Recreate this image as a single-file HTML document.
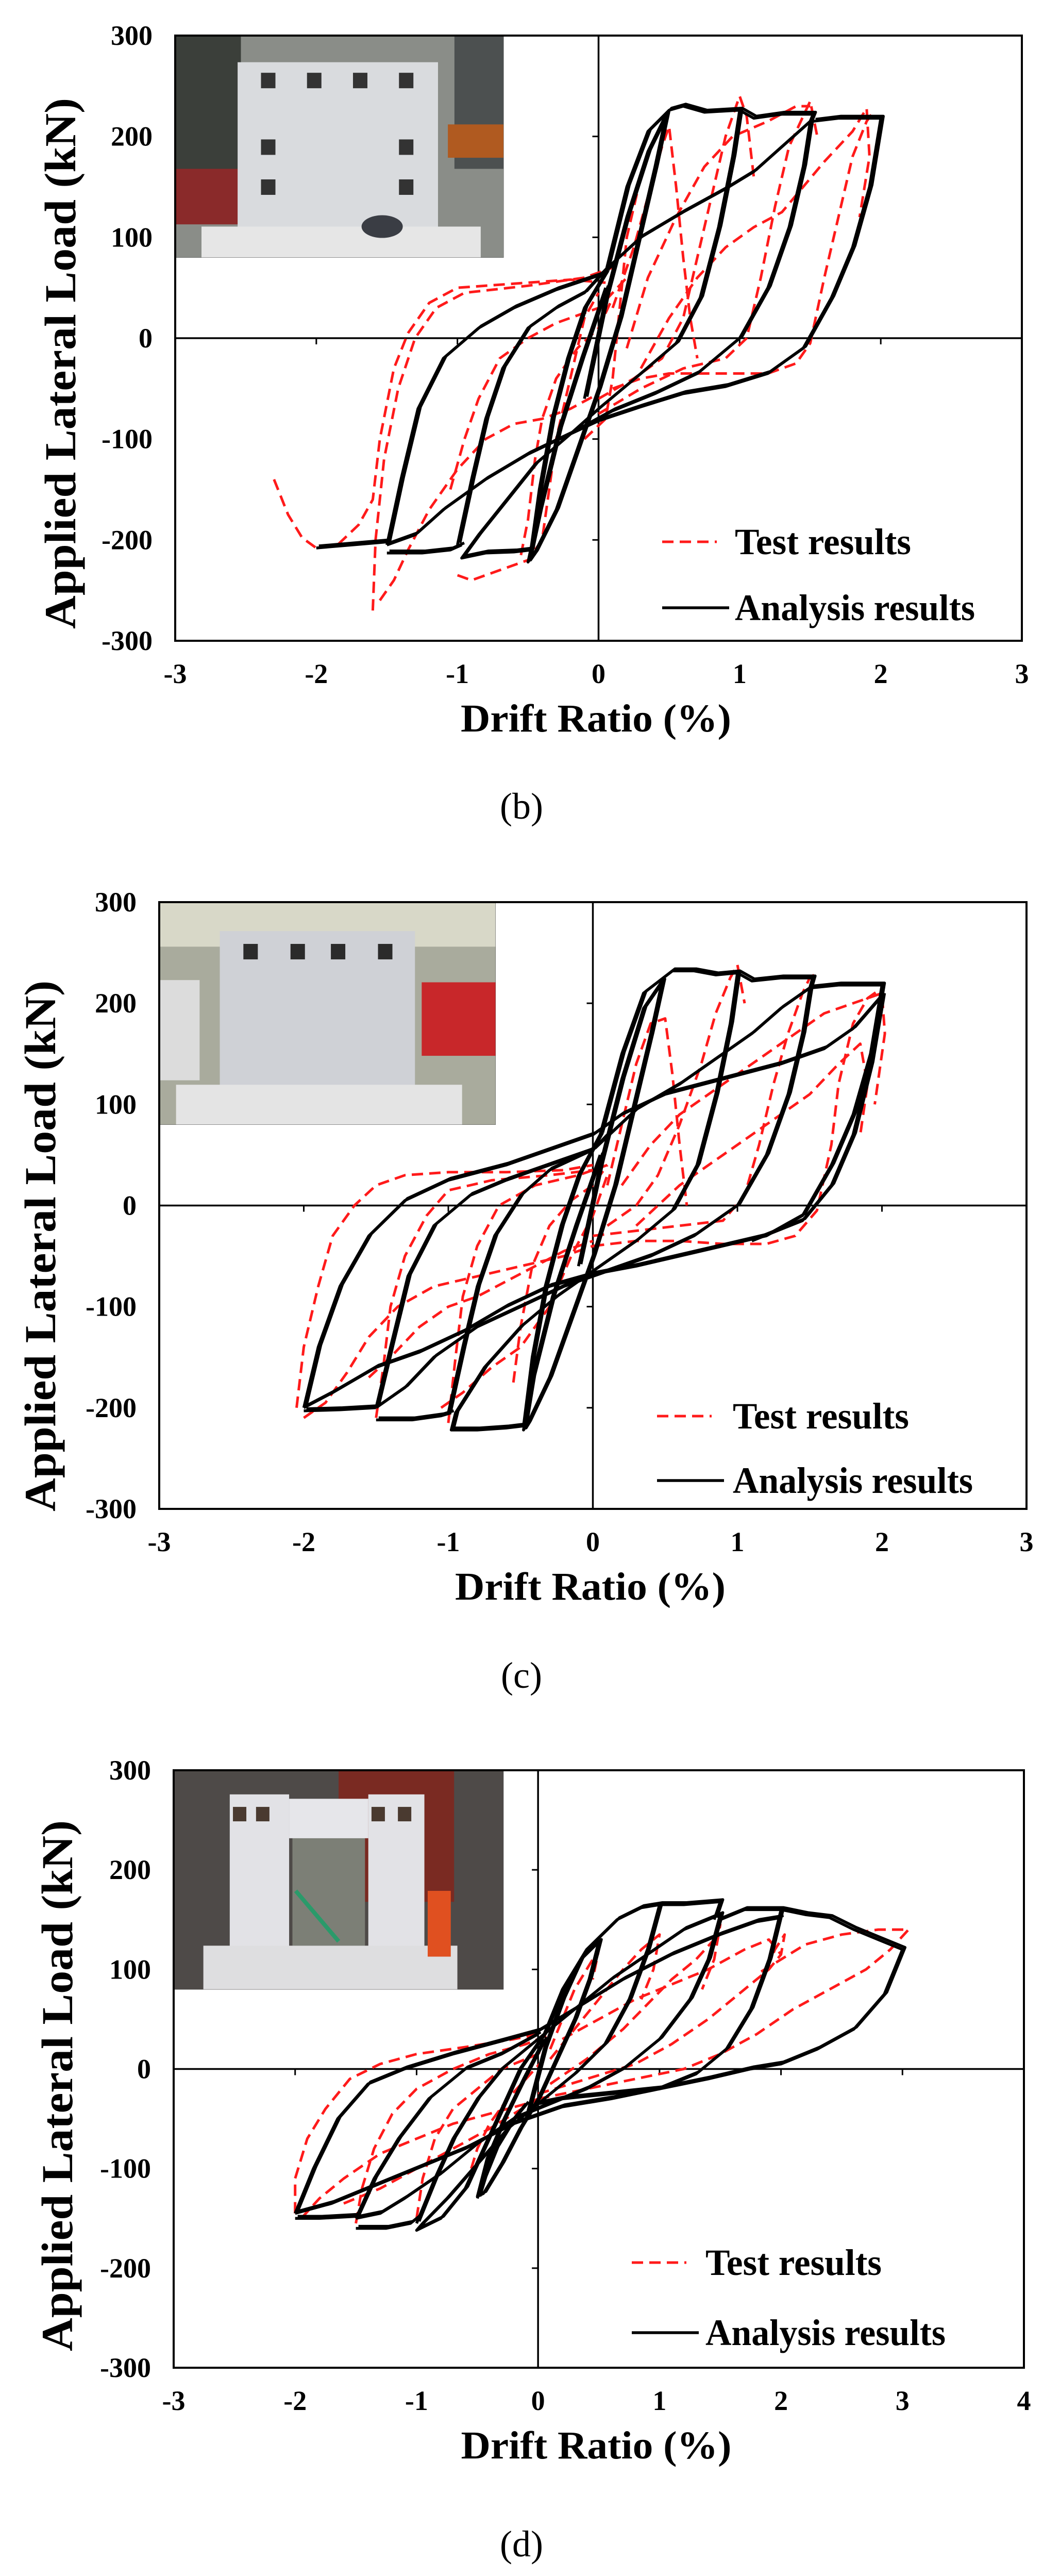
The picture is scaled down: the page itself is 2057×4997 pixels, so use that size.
<!DOCTYPE html>
<html><head><meta charset="utf-8">
<style>
html,body{margin:0;padding:0;background:#fff;}
svg{display:block;}
text{font-family:"Liberation Serif",serif;}
</style></head>
<body>
<svg id="fig" width="2057" height="4997" viewBox="0 0 2057 4997" xmlns="http://www.w3.org/2000/svg">
<rect x="0" y="0" width="2057" height="4997" fill="#fff"/>
</svg>
<script>
// ---------- data ----------
const yTicks = [-300, -200, -100, 0, 100, 200, 300];
const xTicksBC = [-3, -2, -1, 0, 1, 2, 3];
const xTicksD = [-3, -2, -1, 0, 1, 2, 3, 4];
const captions = ["(b)", "(c)", "(d)"];

const bAnalysis = [
 [[-0.1,-60],[0.05,40],[0.2,120],[0.35,185],[0.48,222],[0.4,170],[0.3,110],[0.15,20],[0,-50],[-0.15,-110],[-0.3,-170],[-0.45,-212],[-0.5,-222],[-0.42,-170],[-0.28,-90],[-0.12,-20],[0.05,50]],
 [[0.05,65],[0.2,150],[0.35,205],[0.5,226],[0.6,230],[0.75,224],[1.0,226],[0.95,180],[0.85,110],[0.72,40],[0.55,-5],[0.3,-35],[0,-70],[-0.2,-95],[-0.45,-125],[-0.65,-160],[-0.85,-195],[-0.97,-218],[-0.8,-213],[-0.6,-212],[-0.48,-210],[-0.42,-150],[-0.33,-80],[-0.22,-20],[-0.1,30],[0.05,65]],
 [[-1.0,-205],[-0.9,-140],[-0.8,-80],[-0.68,-30],[-0.5,10],[-0.3,30],[-0.1,45],[0.05,68],[0.3,100],[0.6,125],[0.9,148],[1.1,165],[1.3,190],[1.5,215],[1.45,170],[1.35,110],[1.2,50],[1.0,0],[0.7,-35],[0.4,-55],[0.1,-72],[-0.2,-95],[-0.5,-115],[-0.8,-140],[-1.1,-170],[-1.3,-195],[-1.5,-205]],
 [[-1.5,-205],[-1.4,-140],[-1.28,-70],[-1.1,-20],[-0.85,10],[-0.6,30],[-0.3,48],[0,62],[0.1,72]],
 [[1.0,226],[1.1,218],[1.3,222],[1.52,222],[1.5,215]],
 [[-1.5,-213],[-1.25,-213],[-1.05,-210],[-0.97,-205]],
 [[1.52,215],[1.7,218],[2.0,218],[1.92,150],[1.8,90],[1.65,40],[1.45,-10],[1.2,-35],[0.9,-48],[0.6,-55],[0.3,-68],[0,-82],[-0.2,-95]],
 [[-1.5,-202],[-1.75,-205],[-2.0,-208]]
];
const bTest = [
 [[-2.3,-140],[-2.2,-175],[-2.1,-198],[-2.0,-208],[-1.85,-205],[-1.7,-185],[-1.6,-160],[-1.55,-100],[-1.45,-30],[-1.35,5],[-1.2,35],[-1.0,50],[-0.6,54],[-0.2,58],[0.05,55]],
 [[-1.6,-270],[-1.58,-200],[-1.52,-120],[-1.42,-50],[-1.3,0],[-1.15,30],[-0.95,45],[-0.5,52],[-0.1,60],[0.1,70]],
 [[-1.55,-260],[-1.45,-240],[-1.35,-210],[-1.2,-170],[-1.0,-130],[-0.8,-100],[-0.6,-85],[-0.4,-80],[-0.2,-70],[0,-55]],
 [[-1.0,-235],[-0.9,-240],[-0.7,-230],[-0.5,-220],[-0.4,-200],[-0.35,-150],[-0.3,-100],[-0.2,-40],[-0.1,20],[0,45]],
 [[-1.05,-150],[-0.95,-100],[-0.85,-60],[-0.7,-20],[-0.5,0],[-0.3,15],[0,30],[0.2,60]],
 [[-0.55,-215],[-0.5,-180],[-0.45,-120],[-0.4,-80],[-0.3,-40],[-0.15,-10],[0,10],[0.1,40]],
 [[0.1,-50],[0.3,-40],[0.5,-35],[0.8,-35],[1.0,-35],[1.2,-35],[1.4,-25],[1.5,-5],[1.6,60],[1.7,120],[1.8,180],[1.9,215],[1.95,225]],
 [[0,-75],[0.3,-50],[0.6,-30],[0.9,-20],[1.05,0],[1.15,60],[1.25,130],[1.35,190],[1.45,220],[1.5,235],[1.55,200]],
 [[0,-60],[0.25,-40],[0.45,-20],[0.6,20],[0.7,80],[0.8,140],[0.9,200],[1.0,240],[1.05,220],[1.1,160]],
 [[0.1,30],[0.25,90],[0.35,140],[0.45,190],[0.5,210],[0.55,150],[0.6,80],[0.65,20],[0.7,-20]],
 [[0.2,-10],[0.35,60],[0.55,120],[0.75,170],[0.95,200],[1.2,215],[1.4,230],[1.5,230]],
 [[0.3,-30],[0.5,20],[0.7,60],[0.9,90],[1.1,110],[1.3,125],[1.45,150],[1.6,175],[1.8,205],[1.9,228],[1.92,180],[1.85,120]],
 [[-0.1,-100],[0.05,-80],[0.1,-40],[0.15,30],[0.2,100],[0.3,160],[0.35,180]]
];

const cAnalysis = [
 [[-0.1,-60],[0.05,40],[0.2,125],[0.35,195],[0.48,222],[0.4,170],[0.3,110],[0.15,20],[0,-50],[-0.15,-110],[-0.3,-170],[-0.45,-215],[-0.48,-222],[-0.42,-170],[-0.28,-90],[-0.12,-20],[0.05,50]],
 [[0.05,70],[0.2,150],[0.35,210],[0.55,232],[0.7,232],[0.85,228],[1.0,230],[0.95,180],[0.85,110],[0.72,40],[0.55,-5],[0.3,-35],[0,-65],[-0.25,-90],[-0.5,-120],[-0.75,-160],[-0.95,-205],[-0.98,-222],[-0.8,-222],[-0.6,-220],[-0.48,-218],[-0.42,-150],[-0.33,-80],[-0.22,-20],[-0.1,30],[0.05,70]],
 [[-1.0,-205],[-0.9,-140],[-0.8,-80],[-0.68,-30],[-0.5,10],[-0.3,35],[0,55],[0.3,95],[0.6,120],[0.9,150],[1.1,170],[1.3,195],[1.5,215],[1.45,170],[1.35,110],[1.2,50],[1.0,0],[0.7,-30],[0.4,-50],[0.1,-65],[-0.2,-80],[-0.5,-100],[-0.8,-120],[-1.1,-150],[-1.3,-180],[-1.5,-200]],
 [[-1.5,-200],[-1.4,-140],[-1.28,-70],[-1.1,-20],[-0.85,10],[-0.6,25],[-0.3,40],[0,55],[0.1,70]],
 [[1.0,230],[1.1,222],[1.3,225],[1.52,225],[1.5,215]],
 [[-1.5,-212],[-1.25,-212],[-1.05,-208],[-0.98,-205]],
 [[1.5,215],[1.7,218],[2.0,218],[1.92,150],[1.8,90],[1.65,40],[1.45,-10],[1.2,-30],[0.9,-40],[0.6,-50],[0.3,-60],[0,-68],[-0.3,-80],[-0.6,-100],[-0.9,-125],[-1.2,-145],[-1.5,-160],[-1.8,-185],[-2.0,-200]],
 [[-2.0,-200],[-1.9,-140],[-1.75,-80],[-1.55,-30],[-1.3,5],[-1.0,25],[-0.6,40],[-0.3,55],[0,70],[0.2,90],[0.5,110],[0.9,125],[1.3,140],[1.6,155],[1.8,175],[2.0,208]],
 [[-1.5,-200],[-1.75,-202],[-2.0,-203]],
 [[2.0,208],[1.92,140],[1.8,70],[1.65,20],[1.45,-15],[1.1,-35]]
];
const cTest = [
 [[-2.05,-200],[-2.0,-140],[-1.9,-80],[-1.8,-30],[-1.65,0],[-1.5,20],[-1.3,30],[-1.0,33],[-0.6,33],[-0.2,35],[0,40]],
 [[-2.0,-210],[-1.85,-195],[-1.7,-165],[-1.55,-130],[-1.35,-100],[-1.1,-80],[-0.8,-70],[-0.5,-60],[-0.2,-50],[0,-40]],
 [[-1.5,-210],[-1.45,-160],[-1.4,-100],[-1.3,-50],[-1.15,-10],[-1.0,15],[-0.7,25],[-0.3,30],[0,35]],
 [[-1.0,-215],[-0.95,-150],[-0.9,-90],[-0.8,-40],[-0.65,0],[-0.4,20],[-0.1,30],[0.1,40]],
 [[-1.55,-170],[-1.4,-150],[-1.2,-120],[-1.0,-100],[-0.8,-90],[-0.6,-75],[-0.4,-60],[-0.2,-45],[0,-35]],
 [[-1.05,-200],[-0.9,-185],[-0.7,-160],[-0.5,-140],[-0.3,-100],[-0.15,-50],[0,-10],[0.1,30]],
 [[-0.55,-175],[-0.5,-120],[-0.42,-60],[-0.3,-20],[-0.15,5],[0,20],[0.1,40]],
 [[0,-40],[0.3,-35],[0.6,-35],[0.9,-38],[1.2,-38],[1.4,-30],[1.55,-5],[1.65,60],[1.7,120],[1.8,180],[1.9,205],[2.0,215]],
 [[0,-30],[0.3,-25],[0.6,-20],[0.9,-15],[1.05,10],[1.15,60],[1.25,120],[1.35,170],[1.45,210],[1.5,225],[1.55,230]],
 [[0.1,-20],[0.3,0],[0.45,30],[0.6,80],[0.75,140],[0.85,190],[0.95,225],[1.0,238],[1.05,200]],
 [[0.1,20],[0.2,80],[0.3,140],[0.4,180],[0.5,185],[0.55,130],[0.6,60],[0.65,0]],
 [[0.2,20],[0.4,60],[0.6,90],[0.8,110],[1.0,130],[1.2,150],[1.4,170],[1.6,190],[1.8,200],[2.0,210],[2.02,170],[1.95,100]],
 [[0.3,-20],[0.6,20],[0.9,50],[1.2,80],[1.5,110],[1.7,140],[1.85,160],[1.9,120],[1.85,70]]
];

const dAnalysis = [
 [[-0.1,-50],[0.05,20],[0.2,70],[0.35,110],[0.5,128],[0.42,90],[0.3,50],[0.15,10],[0,-30],[-0.15,-60],[-0.3,-95],[-0.45,-125],[-0.5,-128],[-0.42,-90],[-0.28,-50],[-0.12,-10],[0.05,30]],
 [[0.05,35],[0.2,80],[0.4,120],[0.65,150],[0.85,162],[1.0,165],[0.9,120],[0.75,70],[0.55,25],[0.3,-5],[0,-35],[-0.25,-60],[-0.5,-95],[-0.75,-130],[-0.95,-155],[-1.0,-162],[-0.8,-150],[-0.6,-120],[-0.45,-80],[-0.3,-40],[-0.15,0],[0.05,35]],
 [[-1.0,-155],[-0.85,-110],[-0.7,-70],[-0.5,-30],[-0.3,0],[0,30],[0.3,60],[0.6,90],[0.9,115],[1.2,140],[1.5,155],[1.4,110],[1.25,70],[1.0,30],[0.7,0],[0.4,-20],[0.1,-35],[-0.2,-50],[-0.5,-75],[-0.8,-105],[-1.1,-130],[-1.3,-145],[-1.5,-150]],
 [[-1.5,-150],[-1.35,-110],[-1.15,-70],[-0.9,-30],[-0.6,0],[-0.3,15],[0,35]],
 [[1.0,165],[1.2,165],[1.5,168],[1.45,150]],
 [[-1.5,-160],[-1.25,-160],[-1.05,-155],[-1.0,-150]],
 [[1.5,150],[1.7,160],[2.0,160],[1.9,110],[1.75,60],[1.55,20],[1.3,-5],[1.0,-20],[0.6,-30],[0.2,-38],[-0.2,-55],[-0.6,-80],[-1.0,-100],[-1.4,-120],[-1.7,-135],[-2.0,-145]],
 [[-2.0,-145],[-1.85,-100],[-1.65,-50],[-1.4,-15],[-1.1,0],[-0.7,15],[-0.3,28],[0,38],[0.3,60],[0.7,90],[1.1,115],[1.5,135],[1.8,148],[2.0,152]],
 [[-2.0,-150],[-1.8,-150],[-1.5,-148]],
 [[2.0,160],[2.2,155],[2.4,152],[2.6,140],[2.8,130],[3.0,120],[2.85,75],[2.6,40],[2.3,20],[2.0,5],[1.75,0],[1.4,-10],[1.0,-20],[0.6,-25],[0.2,-30],[0,-35]],
 [[-0.5,-130],[-0.45,-110],[-0.35,-80],[-0.2,-50],[-0.1,-35]]
];
const dTest = [
 [[-2.0,-145],[-2.0,-110],[-1.9,-70],[-1.75,-40],[-1.55,-10],[-1.3,5],[-1.0,15],[-0.6,22],[-0.2,30],[0,35]],
 [[-1.95,-150],[-1.8,-130],[-1.6,-110],[-1.3,-85],[-1.0,-70],[-0.7,-55],[-0.4,-45],[-0.1,-35],[0,-30]],
 [[-1.5,-155],[-1.45,-120],[-1.35,-80],[-1.2,-45],[-1.0,-20],[-0.7,0],[-0.4,15],[-0.1,25],[0.1,35]],
 [[-1.0,-150],[-0.95,-110],[-0.85,-70],[-0.7,-40],[-0.5,-20],[-0.3,0],[0,15],[0.1,30]],
 [[-1.6,-135],[-1.3,-120],[-1.0,-100],[-0.7,-80],[-0.4,-60],[-0.2,-45],[0,-30]],
 [[-0.55,-100],[-0.5,-80],[-0.4,-55],[-0.25,-30],[-0.1,-10],[0.05,10]],
 [[0,-30],[0.4,-20],[0.8,-10],[1.2,0],[1.5,15],[1.8,35],[2.1,60],[2.4,80],[2.7,100],[2.9,120],[3.05,140],[2.8,140],[2.5,135],[2.2,125],[2.0,110],[1.8,95]],
 [[0,-25],[0.4,-10],[0.8,5],[1.1,25],[1.4,50],[1.6,70],[1.75,85],[1.9,100],[2.0,115],[2.03,135],[1.95,120],[1.85,90]],
 [[0.1,-15],[0.4,10],[0.7,40],[0.9,65],[1.1,90],[1.3,110],[1.45,130],[1.5,145],[1.45,110],[1.35,80]],
 [[0.1,10],[0.3,40],[0.5,70],[0.7,100],[0.85,120],[1.0,135],[0.95,100],[0.85,70]],
 [[0.1,20],[0.2,50],[0.3,80],[0.45,110],[0.5,120],[0.45,90]],
 [[0.2,30],[0.5,50],[0.8,70],[1.1,85],[1.4,100],[1.7,120],[1.9,130],[2.0,115]]
];

// ---------- layout ----------
const charts = [
 {L:340,R:1983,T:69,B:1243,xmin:-3,xmax:3,xt:xTicksBC,an:bAnalysis,te:bTest,cap:captions[0],capY:1588,ytx:118,yty:705,lx:1285,ly1:1051,ly2:1179,tx:1426,inset:'b'},
 {L:309,R:1992,T:1750,B:2927,xmin:-3,xmax:3,xt:xTicksBC,an:cAnalysis,te:cTest,cap:captions[1],capY:3274,ytx:79,yty:2417,lx:1275,ly1:2747,ly2:2872,tx:1422,inset:'c'},
 {L:337,R:1987,T:3434,B:4593,xmin:-3,xmax:4,xt:xTicksD,an:dAnalysis,te:dTest,cap:captions[2],capY:4959,ytx:112,yty:4046,lx:1226,ly1:4389,ly2:4525,tx:1369,inset:'d'}
];

const NS = "http://www.w3.org/2000/svg";
const svg = document.getElementById('fig');
function mk(tag, attrs, parent, txt){
  const e = document.createElementNS(NS, tag);
  for (const k in attrs) e.setAttribute(k, attrs[k]);
  if (txt !== undefined) e.textContent = txt;
  (parent||svg).appendChild(e);
  return e;
}

function drawInset(g, c, x, y, w, h){
  const clipId = 'clip-' + c.inset;
  const cp = mk('clipPath', {id: clipId}, g);
  mk('rect', {x:x, y:y, width:w, height:h}, cp);
  const p = mk('g', {'clip-path':'url(#'+clipId+')'}, g);
  
  
  if (c.inset === 'b') {
    mk('rect',{x:x,y:y,width:w,height:h,fill:'#8a8d88'},p);
    mk('rect',{x:x,y:y,width:w*0.2,height:h*0.75,fill:'#3b3f3a'},p);
    mk('rect',{x:x+w*0.85,y:y,width:w*0.15,height:h*0.6,fill:'#4c5050'},p);
    mk('rect',{x:x,y:y+h*0.6,width:w*0.2,height:h*0.25,fill:'#8a2a2a'},p);
    mk('rect',{x:x+w*0.83,y:y+h*0.4,width:w*0.17,height:h*0.15,fill:'#b05a20'},p);
    mk('rect',{x:x+w*0.19,y:y+h*0.12,width:w*0.61,height:h*0.76,fill:'#d9dbde'},p);
    mk('rect',{x:x+w*0.08,y:y+h*0.86,width:w*0.85,height:h*0.14,fill:'#e6e6e6'},p);
    [[0.28,0.2],[0.42,0.2],[0.56,0.2],[0.7,0.2],[0.28,0.5],[0.7,0.5],[0.28,0.68],[0.7,0.68]].forEach(q=>mk('rect',{x:x+w*q[0]-12,y:y+h*q[1]-14,width:28,height:30,fill:'#333'},p));
    mk('ellipse',{cx:x+w*0.63,cy:y+h*0.86,rx:40,ry:22,fill:'#3a3d44'},p);
  } else if (c.inset === 'c') {
    mk('rect',{x:x,y:y,width:w,height:h,fill:'#a9ab9d'},p);
    mk('rect',{x:x,y:y,width:w,height:h*0.2,fill:'#d8d8c8'},p);
    mk('rect',{x:x+w*0.78,y:y+h*0.36,width:w*0.22,height:h*0.33,fill:'#c8272a'},p);
    mk('rect',{x:x+w*0.18,y:y+h*0.13,width:w*0.58,height:h*0.72,fill:'#cfd1d6'},p);
    mk('rect',{x:x+w*0.05,y:y+h*0.82,width:w*0.85,height:h*0.18,fill:'#e4e4e4'},p);
    mk('rect',{x:x,y:y+h*0.35,width:w*0.12,height:h*0.45,fill:'#dcdcdc'},p);
    [[0.27,0.22],[0.41,0.22],[0.53,0.22],[0.67,0.22]].forEach(q=>mk('rect',{x:x+w*q[0]-13,y:y+h*q[1]-14,width:28,height:30,fill:'#2b2b2b'},p));
  } else {
    mk('rect',{x:x,y:y,width:w,height:h,fill:'#4e4a48'},p);
    mk('rect',{x:x+w*0.5,y:y,width:w*0.35,height:h*0.6,fill:'#7a2a22'},p);
    mk('rect',{x:x+w*0.36,y:y+h*0.3,width:w*0.22,height:h*0.5,fill:'#7c7f76'},p);
    mk('rect',{x:x+w*0.17,y:y+h*0.11,width:w*0.18,height:h*0.75,fill:'#e2e2e6'},p);
    mk('rect',{x:x+w*0.59,y:y+h*0.11,width:w*0.17,height:h*0.75,fill:'#e2e2e6'},p);
    mk('rect',{x:x+w*0.35,y:y+h*0.13,width:w*0.24,height:h*0.18,fill:'#e6e6ea'},p);
    mk('rect',{x:x+w*0.09,y:y+h*0.8,width:w*0.77,height:h*0.2,fill:'#dedee0'},p);
    mk('rect',{x:x+w*0.77,y:y+h*0.55,width:w*0.07,height:h*0.3,fill:'#e05020'},p);
    [[0.2,0.2],[0.27,0.2],[0.62,0.2],[0.7,0.2]].forEach(q=>mk('rect',{x:x+w*q[0]-13,y:y+h*q[1]-14,width:26,height:28,fill:'#4a3a30'},p));
    mk('line',{x1:x+w*0.37,y1:y+h*0.55,x2:x+w*0.5,y2:y+h*0.78,stroke:'#2a9a6a','stroke-width':8},p);
  }
  mk('rect',{x:x,y:y,width:w,height:h,fill:'none',stroke:'#444','stroke-width':1},p);
}

charts.forEach((c, ci) => {
  const g = mk('g', {});
  
  
  const sx = v => c.L + (v - c.xmin) / (c.xmax - c.xmin) * (c.R - c.L);
  const sy = v => c.B - (v + 300) / 600 * (c.B - c.T);
  const x0 = sx(0), y0 = sy(0);

  drawInset(g, c, c.L, c.T, (c.R - c.L) * 0.388, (c.B - c.T) * 0.367);

  const xa = mk('line',{x1:c.L,y1:y0,x2:c.R,y2:y0,stroke:'#000','stroke-width':3.5},g);
  
  
  const ya = mk('line',{x1:x0,y1:c.T,x2:x0,y2:c.B,stroke:'#000','stroke-width':3.5},g);
  
  

  c.xt.forEach(t => {
    if (t === c.xmin || t === c.xmax || t === 0) return;
    const tk = mk('line',{x1:sx(t),y1:y0,x2:sx(t),y2:y0+12,stroke:'#000','stroke-width':3},g);
    
    
  });
  yTicks.forEach(t => {
    if (t === -300 || t === 300 || t === 0) return;
    const tk = mk('line',{x1:x0-12,y1:sy(t),x2:x0,y2:sy(t),stroke:'#000','stroke-width':3},g);
    
    
  });

  c.te.forEach(line => {
    const pl = mk('polyline',{points: line.map(p => sx(p[0]).toFixed(1)+','+sy(p[1]).toFixed(1)).join(' '), fill:'none', stroke:'#ff1a1a','stroke-width':5,'stroke-dasharray':'22 12','stroke-linejoin':'round'},g);
    
    
  });
  c.an.forEach(line => {
    const pts = line.map(p => sx(p[0]).toFixed(1)+','+sy(p[1]).toFixed(1)).join(' ');
    const pl = mk('polyline',{points: pts, fill:'none', stroke:'#000','stroke-width':5.5,'stroke-linejoin':'round'},g);
    
    
    const pl2 = mk('polyline',{points: pts, fill:'none', stroke:'#000','stroke-width':5.5,'stroke-linejoin':'round',transform:'translate(5,-4)'},g);
    
    
  });

  const fr = mk('rect',{x:c.L,y:c.T,width:c.R-c.L,height:c.B-c.T,fill:'none',stroke:'#000','stroke-width':4},g);
  
  

  yTicks.forEach(t => {
    const tl = mk('text',{x:c.L-44,y:sy(t)+18,'text-anchor':'end','font-size':54,'font-weight':'bold'},g,String(t));
    
    
  });
  c.xt.forEach(t => {
    const tl = mk('text',{x:sx(t),y:c.B+82,'text-anchor':'middle','font-size':54,'font-weight':'bold'},g,String(t));
    
    
  });

  const xt = mk('text',{x:(c.L+c.R)/2-5,y:c.B+176,'text-anchor':'middle','font-size':76,'font-weight':'bold',textLength:525,lengthAdjust:'spacingAndGlyphs'},g,'Drift Ratio (%)');
  
  
  const yt = mk('text',{x:0,y:0,'text-anchor':'middle','font-size':86,'font-weight':'bold',textLength:1030,lengthAdjust:'spacingAndGlyphs',transform:'translate('+(c.ytx+28)+','+c.yty+') rotate(-90)'},g,'Applied Lateral Load (kN)');
  
  

  const lg = mk('g',{},g);
  
  
  const l1 = mk('line',{x1:c.lx,y1:c.ly1,x2:c.lx+106,y2:c.ly1,stroke:'#ff1a1a','stroke-width':5,'stroke-dasharray':'22 12'},lg);
  
  
  const t1 = mk('text',{x:c.tx,y:c.ly1+24,'font-size':72,'font-weight':'bold',textLength:342,lengthAdjust:'spacingAndGlyphs'},lg,'Test results');
  
  
  const l2 = mk('line',{x1:c.lx,y1:c.ly2,x2:c.lx+130,y2:c.ly2,stroke:'#000','stroke-width':5.5},lg);
  
  
  const t2 = mk('text',{x:c.tx,y:c.ly2+24,'font-size':72,'font-weight':'bold',textLength:466,lengthAdjust:'spacingAndGlyphs'},lg,'Analysis results');
  
  

  const cp = mk('text',{x:1012,y:c.capY,'text-anchor':'middle','font-size':72},g,c.cap);
  
  
});
</script>
</body></html>
